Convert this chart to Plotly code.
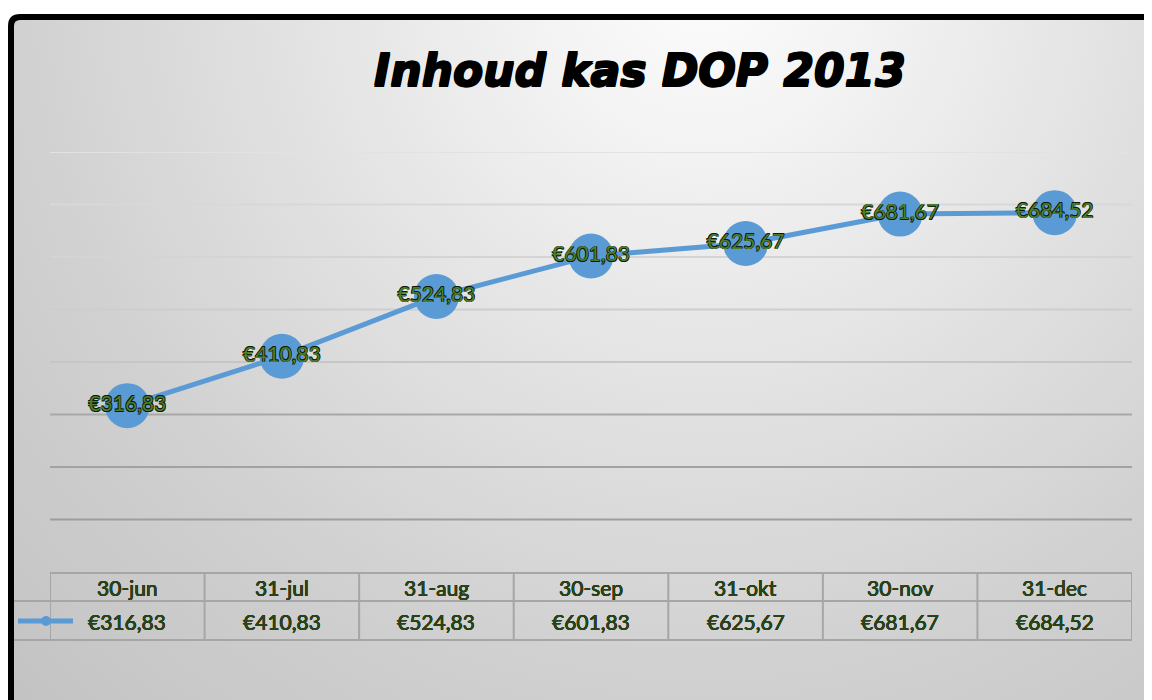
import base64
import plotly.graph_objects as go

# ---- data ----
dates = ["30-jun", "31-jul", "31-aug", "30-sep", "31-okt", "30-nov", "31-dec"]
amounts = [316.83, 410.83, 524.83, 601.83, 625.67, 681.67, 684.52]
title_text = "Inhoud kas DOP 2013"
y_ticks = [100, 200, 300, 400, 500, 600, 700, 800]

OFF = 8  # page body margin
W, H = 1152 - OFF, 700 - OFF
L, R, T, B = 50 - OFF, 20, 152 - OFF, 128
PW = W - L - R
PH = H - T - B


def px(x):  # page pixel -> paper x
    return (x - OFF - L) / PW


def py(y):  # page pixel -> paper y
    return (H - B - (y - OFF)) / PH


def eur(v):
    return "€" + f"{v:.2f}".replace(".", ",")


labels = [eur(v) for v in amounts]

BLUE = "#5b9bd5"


def outline(w, c):
    return (f"-{w}px -{w}px 0 {c}, {w}px -{w}px 0 {c}, "
            f"-{w}px {w}px 0 {c}, {w}px {w}px 0 {c}")


fig = go.Figure()
fig.add_trace(go.Scatter(
    x=dates, y=amounts, mode="lines+markers+text",
    line=dict(color=BLUE, width=5),
    marker=dict(size=45, color=BLUE),
    text=labels, textposition="middle center",
    textfont=dict(family="Lato", size=21, color="#4e7d2e", shadow=outline(0.6, "#0d1a06")),
    cliponaxis=False, hoverinfo="skip", showlegend=False,
))

# background gradient (svg)
svg = '''<svg xmlns="http://www.w3.org/2000/svg" width="1138" height="680" viewBox="0 0 1138 680" preserveAspectRatio="none">
<defs><radialGradient id="g" cx="690" cy="-40" r="1000" gradientUnits="userSpaceOnUse">
<stop offset="0" stop-color="#fcfcfc"/><stop offset="0.15" stop-color="#f4f4f4"/>
<stop offset="0.45" stop-color="#e0e0e0"/><stop offset="0.7" stop-color="#d0d0d0"/>
<stop offset="1" stop-color="#c3c3c3"/>
</radialGradient></defs><rect width="1138" height="680" fill="url(#g)"/></svg>'''
src = "data:image/svg+xml;base64," + base64.b64encode(svg.encode()).decode()

shapes = []
# gridlines
grid_colors = {100: "#9e9e9e", 200: "#a2a2a2", 300: "#a8a8a8", 400: "#c6c6c6",
               500: "#cdcdcd", 600: "#d4d4d4", 700: "#d8d8d8", 800: "#e2e2e2"}
for v in y_ticks:
    shapes.append(dict(type="line", xref="paper", yref="y", x0=0, x1=1, y0=v, y1=v,
                       line=dict(color=grid_colors[v], width=2), layer="below"))

TC = "#a6a6a6"
row_top, row_mid, row_bot = 573, 601, 640
shapes.append(dict(type="line", xref="paper", yref="paper", x0=0, x1=1,
                   y0=py(row_top), y1=py(row_top), line=dict(color=TC, width=2)))
for yy in (row_mid, row_bot):
    shapes.append(dict(type="line", xref="paper", yref="paper", x0=px(14), x1=1,
                       y0=py(yy), y1=py(yy), line=dict(color=TC, width=2)))
for i in range(len(dates) + 1):
    shapes.append(dict(type="line", xref="x", yref="paper", x0=i - 0.5, x1=i - 0.5,
                       y0=py(row_top), y1=py(row_bot), line=dict(color=TC, width=2)))
# legend key
shapes.append(dict(type="line", xref="paper", yref="paper", x0=px(18), x1=px(73),
                   y0=py(621), y1=py(621), line=dict(color=BLUE, width=5)))
shapes.append(dict(type="circle", xref="paper", yref="paper", x0=px(41), x1=px(51),
                   y0=py(626), y1=py(616), fillcolor=BLUE, line=dict(width=0)))

# black border with rounded corner
xl, yt, r = 11, 17, 9
path = (f"M {px(xl)},{py(720)} L {px(xl)},{py(yt + r)} "
        f"Q {px(xl)},{py(yt)} {px(xl + r)},{py(yt)} L {px(1170)},{py(yt)}")
shapes.append(dict(type="path", xref="paper", yref="paper", path=path,
                   line=dict(color="#000000", width=6)))

annotations = []
tfont = dict(family="Lato", size=21, color="#2a4419", shadow=outline(0.2, "#1a3010"))
for d, lab in zip(dates, labels):
    annotations.append(dict(x=d, xref="x", y=py(587), yref="paper", text=d,
                            showarrow=False, font=tfont, xanchor="center", yanchor="middle"))
    annotations.append(dict(x=d, xref="x", y=py(621), yref="paper", text=lab,
                            showarrow=False, font=tfont, xanchor="center", yanchor="middle"))
annotations.append(dict(x=px(640), xref="paper", y=py(70), yref="paper", text=title_text,
                        showarrow=False, xanchor="center", yanchor="middle",
                        font=dict(family="DejaVu Sans", size=44, color="#000000",
                                  weight="bold", style="italic",
                                  shadow=outline(0.8, "#000"))))

fig.update_layout(
    width=W, height=H,
    margin=dict(l=L, r=R, t=T, b=B),
    paper_bgcolor="#ffffff", plot_bgcolor="rgba(0,0,0,0)",
    xaxis=dict(type="category", range=[-0.5, len(dates) - 0.5], showgrid=False,
               showticklabels=False, zeroline=False, showline=False, ticks=""),
    yaxis=dict(range=[0, 800], tickvals=y_ticks, showgrid=False, showticklabels=False,
               zeroline=False, showline=False, ticks=""),
    images=[dict(source=src, xref="paper", yref="paper", x=px(14), y=py(20),
                 sizex=px(1152) - px(14), sizey=py(20) - py(700), xanchor="left", yanchor="top",
                 sizing="stretch", layer="below")],
    shapes=shapes, annotations=annotations,
)

fig.write_html("out.html")
